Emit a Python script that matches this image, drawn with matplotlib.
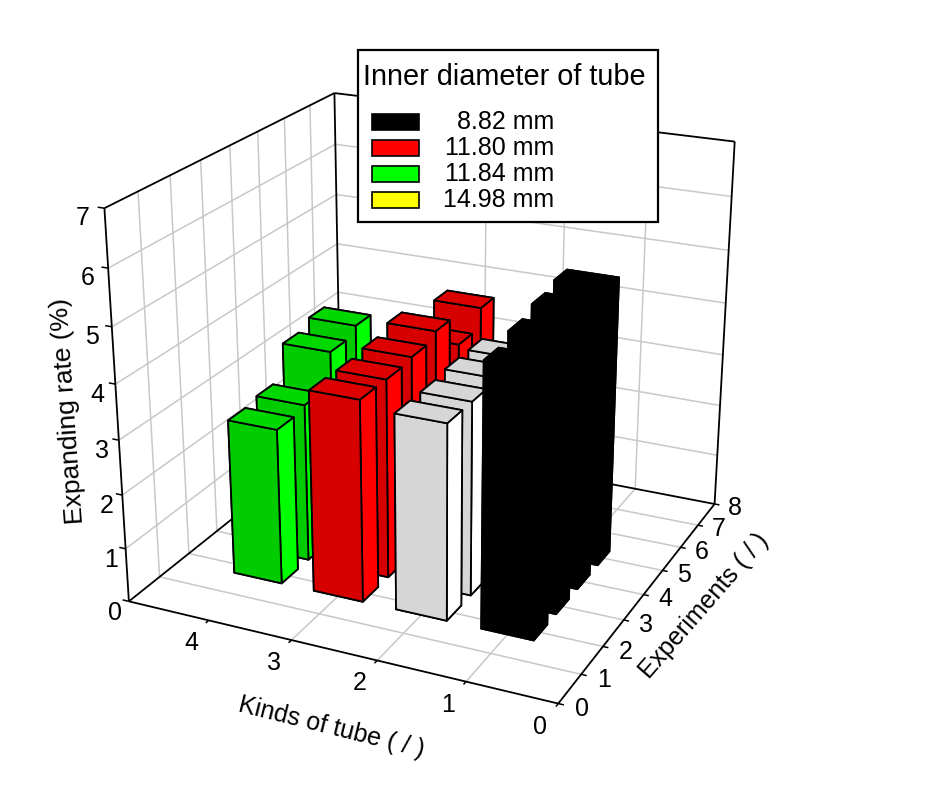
import matplotlib
matplotlib.use('Agg')
import matplotlib.pyplot as plt
from matplotlib.patches import Rectangle

plt.rcParams['font.family'] = ['Liberation Sans', 'DejaVu Sans']

kinds = [1, 2, 3, 4]
kind_experiments = [
    [2, 3, 4, 5],
    [2, 3, 4, 5],
    [2, 3, 4, 5, 6, 7],
    [2, 3, 4, 5],
]
kind_rates = [
    [4.8, 4.95, 5.08, 5.18],
    [3.6, 3.6, 3.65, 3.65],
    [3.73, 3.72, 3.77, 3.9, 3.3, 3.67],
    [2.9, 2.97, 3.6, 3.75],
]
# front, side, top faces
kind_colors = [
    ('#000000', '#000000', '#000000'),
    ('#d6d6d6', '#ffffff', '#d6d6d6'),
    ('#d60000', '#ff0000', '#dc0000'),
    ('#00cc00', '#00ff00', '#00d800'),
]
exp_ticks = list(range(9))
kind_ticks = list(range(5))
rate_ticks = list(range(8))

legend_title = 'Inner diameter of tube'
legend_labels = ['8.82 mm', '11.80 mm', '11.84 mm', '14.98 mm']
legend_colors = ['#000000', '#ff0000', '#00ff00', '#ffff00']

W, H = 949, 790
GRID = '#c8c8c8'
FS = 18

fig = plt.figure(figsize=(W / 100, H / 100), dpi=100)
ax = fig.add_axes([55.55 / W, 41.39 / H, 739.85 / W, 739.85 / H],
                  projection='3d', computed_zorder=False)
ax.set_xlim(0, 8)
ax.set_ylim(0, 5)
ax.set_zlim(0, 7)
ax.view_init(elev=22.135, azim=-155.056)
ax.set_proj_type('persp', focal_length=0.5247)
ax.set_box_aspect((1, 1.00225, 0.8932))
ax.set_xticks([])
ax.set_yticks([])
ax.set_zticks([])
ax.set_axis_off()
ax.patch.set_visible(False)


def line(xs, ys, zs, color=GRID, lw=1.1, z=1):
    ax.plot(xs, ys, zs, color=color, lw=lw, zorder=z, solid_capstyle='butt')


# grid on floor and the two back walls
for e in exp_ticks[1:-1]:
    line([e, e], [0, 5], [0, 0])
    line([e, e], [5, 5], [0, 7])
for k in kind_ticks[1:-1]:
    line([0, 8], [k, k], [0, 0])
    line([8, 8], [k, k], [0, 7])
for r in rate_ticks[1:-1]:
    line([0, 8], [5, 5], [r, r])
    line([8, 8], [0, 5], [r, r])

# box frame
for xs, ys, zs in [([0, 8], [0, 0], [0, 0]), ([0, 0], [0, 5], [0, 0]),
                   ([8, 8], [0, 5], [0, 0]), ([0, 8], [5, 5], [0, 0]),
                   ([0, 0], [5, 5], [0, 7]), ([8, 8], [5, 5], [0, 7]),
                   ([8, 8], [0, 0], [0, 7]), ([0, 8], [5, 5], [7, 7]),
                   ([8, 8], [0, 5], [7, 7])]:
    line(xs, ys, zs, color='k', lw=1.3, z=1.5)

# ticks and tick labels
for e in exp_ticks:
    line([e, e], [0, -0.06], [0, 0], color='k', z=1.5)
    ax.text(e, -0.25, 0, str(e), fontsize=FS, ha='center', va='center', zorder=50)
for k in kind_ticks:
    line([0, -0.1], [k, k], [0, 0], color='k', z=1.5)
    ax.text(-0.78, k * 0.98, 0, str(k), fontsize=FS, ha='center', va='center', zorder=50)
for r in rate_ticks:
    line([0, 0], [5, 5.08], [r, r], color='k', z=1.5)
    ax.text(-0.25, 5.08 + 0.012 * r, r - 0.13, str(r), fontsize=FS, ha='center', va='center', zorder=50)

# bars, back to front
bars = []
for k, exps, rates, cols in zip(kinds, kind_experiments, kind_rates, kind_colors):
    for e, v in zip(exps, rates):
        bars.append((e, k, v, cols))
bars.sort(key=lambda b: (-b[0], -b[1]))
for i, (e, k, v, cols) in enumerate(bars):
    front, side, top = cols
    # bar3d face order: -z, +z, -y, +y, -x, +x
    ax.bar3d(e - 0.3, k - 0.3, 0, 0.6, 0.6, v, shade=False,
             color=[top, top, side, side, front, front],
             edgecolor='k', linewidth=1.3, zorder=5 + i)

# axis titles and legend in figure pixels
ov = fig.add_axes([0, 0, 1, 1], zorder=10)
ov.set_xlim(0, W)
ov.set_ylim(H, 0)
ov.set_xticks([])
ov.set_yticks([])
ov.axis('off')
ov.text(68, 411, 'Expanding rate (%)', fontsize=19, rotation=94,
        rotation_mode='anchor', ha='center', va='center')
ov.text(331, 727, 'Kinds of tube ( / )', fontsize=FS, rotation=-14,
        rotation_mode='anchor', ha='center', va='center')
ov.text(704, 606, 'Experiments ( / )', fontsize=FS, rotation=49,
        rotation_mode='anchor', ha='center', va='center')

ov.add_patch(Rectangle((358, 50), 300, 172, fc='w', ec='k', lw=1.6))
ov.text(363, 77, legend_title, fontsize=20.8, ha='left', va='center')
for y, lab, col in zip([122, 148, 174, 200], legend_labels, legend_colors):
    ov.add_patch(Rectangle((372, y - 8), 47, 16, fc=col, ec='k', lw=1.2))
    ov.text(554, y, lab, fontsize=FS, ha='right', va='center')

fig.savefig('out.png', dpi=100)
